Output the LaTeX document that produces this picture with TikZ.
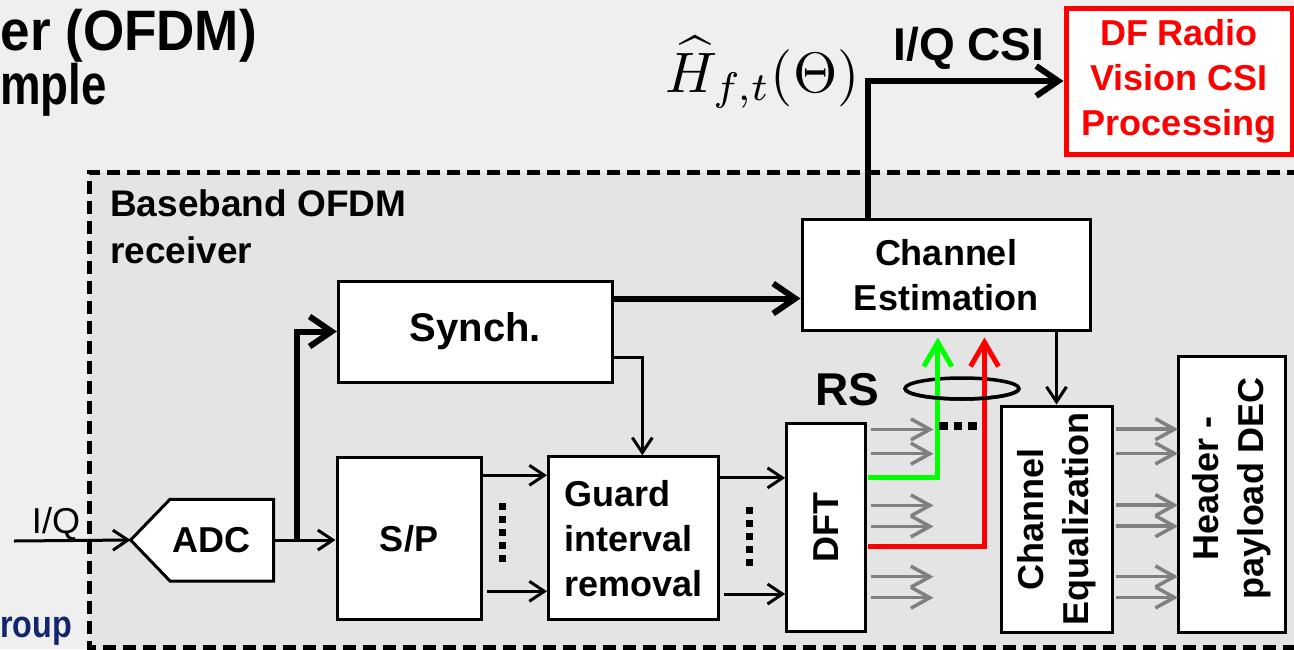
\documentclass[tikz,border=0pt]{standalone}
\usepackage[no-math]{fontspec}
\setmainfont{Liberation Sans}
\usepackage{amsmath}
\usepackage{graphicx}
\usetikzlibrary{arrows.meta,calc}
\definecolor{bgout}{HTML}{EFEFEF}
\definecolor{bgin}{HTML}{E4E4E4}
\definecolor{navy}{HTML}{13256B}
\definecolor{arrgray}{HTML}{808080}
\definecolor{rsgreen}{HTML}{00FF00}
\definecolor{rsred}{HTML}{FF0000}
\begin{document}
\begin{tikzpicture}[x=1pt,y=-1pt,
  box/.style={draw=black,line width=3pt,fill=white,inner sep=0pt,align=center,
    font=\fontsize{36}{45}\selectfont\bfseries},
  lbl/.style={inner sep=0pt,align=center,font=\fontsize{36}{45}\selectfont\bfseries},
  thinarr/.style={line width=3pt,-{Straight Barb[length=15pt,width=20pt]}},
  thickarr/.style={line width=6pt,-{Straight Barb[length=22pt,width=30pt]}},
  grayarr/.style={draw=arrgray,line width=3.5pt,-{Straight Barb[length=19pt,width=21pt]}},
  greenarr/.style={draw=rsgreen,line width=5pt,-{Straight Barb[length=24pt,width=28pt]}},
  redarr/.style={draw=rsred,line width=5pt,-{Straight Barb[length=24pt,width=28pt]}},
  dotline/.style={line width=7pt,dash pattern=on 7pt off 6pt},
  ring/.style={line width=3.5pt}
]
\useasboundingbox (0,0) rectangle (1294,649);
\fill[bgout] (0,0) rectangle (1294,649);
\fill[bgin] (89,172) rectangle (1300,652);
\draw[line width=5pt,dash pattern=on 13pt off 7pt] (1300,172) -- (89,172) -- (89,647) -- (1300,647);

% cropped slide texts
\node[anchor=base east,inner sep=0pt,font=\fontsize{57}{60}\selectfont\bfseries] (title1) at (257,50) {\scalebox{0.93}[1]{er (OFDM)}};
\node[anchor=base east,inner sep=0pt,font=\fontsize{57}{60}\selectfont\bfseries] (title2) at (107,104) {\scalebox{0.8}[1]{mple}};
\node[anchor=base east,inner sep=0pt,text=navy,font=\fontsize{38}{40}\selectfont\bfseries] (grp) at (72,637) {\scalebox{0.85}[1]{roup}};

\node[anchor=north west,inner sep=0pt,align=left,font=\fontsize{37}{47}\selectfont\bfseries] (bb) at (110,189) {Baseband OFDM\\receiver};

% blocks
\node[box,minimum width=288pt,minimum height=111pt] (ce) at (946,275) {Channel\\Estimation};
\node[box,minimum width=274pt,minimum height=101pt,font=\fontsize{40}{48}\selectfont\bfseries] (synch) at (475.4,331.5) {Synch.};
\node[box,minimum width=144pt,minimum height=162pt] (sp) at (409,538.8) {S/P};
\node[box,minimum width=170pt,minimum height=163pt,align=left] (guard) at (633.5,538.3) {Guard\\interval\\removal};
\node[box,minimum width=79pt,minimum height=208pt] (dft) at (826.2,527.5) {};
\node[lbl,rotate=90] (dfttxt) at (dft.center) {DFT};
\node[box,minimum width=111pt,minimum height=226pt] (eq) at (1056.5,519) {};
\node[lbl,rotate=90] (eqtxt) at (eq.center) {Channel\\Equalization};
\node[box,minimum width=107pt,minimum height=276pt] (hdr) at (1231.5,494) {};
\node[lbl,rotate=90] (hdrtxt) at (1231.5,488) {Header -\\payload DEC};
\node[box,draw=rsred,text=rsred,line width=5pt,minimum width=226pt,minimum height=146pt] (df) at (1179,81) {DF Radio\\Vision CSI\\Processing};

% ADC
\draw[line width=3pt,fill=white] (273.6,499.3) -- (170,499.3) -- (130.6,540) -- (170,581) -- (273.6,581) -- cycle;
\node[lbl,minimum width=123.6pt] (adc) at (211.8,540) {ADC};
\coordinate (adctip) at (130.6,540);
\coordinate (iqin) at (14,541);

% input
\draw[thinarr] (iqin) -- (adctip);
\node[anchor=base,inner sep=0pt,font=\fontsize{36}{40}\selectfont] (iq) at (56,533) {I/Q};

% ADC -> S/P, ADC -> Synch
\draw[thinarr] (adc.east) -- (adc.east -| sp.west);
\draw[thickarr] ($(adc.east)+(23,1.5)$) |- (synch.west);

% Synch -> CE, Synch -> Guard
\path ($(synch.north east)+(0,19)$) coordinate (s1);
\draw[thickarr] (s1) -- (s1 -| ce.west);
\path ($(synch.north east)+(0,78.3)$) coordinate (s2);
\draw[thinarr] (s2) -| ($(guard.north)+(8.8,0)$);

% S/P -> Guard
\path ($(sp.north east)+(0,19)$) coordinate (p1);
\draw[thinarr] (p1) -- (p1 -| guard.west);
\path ($(sp.north east)+(4,135)$) coordinate (p2);
\draw[thinarr] (p2) -- (p2 -| guard.west);
\draw[dotline] (502,503) -- (502,562);

% Guard -> DFT
\path ($(guard.north east)+(0,22.6)$) coordinate (g1);
\draw[thinarr] (g1) -- (g1 -| dft.west);
\path ($(guard.north east)+(4,138.7)$) coordinate (g2);
\draw[thinarr] (g2) -- (g2 -| dft.west);
\draw[dotline] (749,507) -- (749,566);

% DFT outputs
\foreach \d in {7.4,31.7,83.4,104.4,154.7,175.7}
  \draw[grayarr] ($(dft.north east)+(3.3,\d)$) -- ++(63,0);

% RS ring (back)
\draw[ring] (962,388.5) ellipse [x radius=57pt, y radius=10.5pt];
\draw[greenarr] ($(dft.north east)+(1,55.7)$) -| ($(ce.south west)+(137.3,5.5)$);
\draw[redarr] ($(dft.north east)+(1,124.7)$) -| ($(ce.south west)+(184,5.5)$);
% RS ring (front)
\draw[ring] (905,388.5) arc [start angle=180,end angle=360,x radius=57pt,y radius=10.5pt];
\draw[line width=8pt,dash pattern=on 8.5pt off 6pt] (939,425.7) -- (977,425.7);
\node[anchor=base,inner sep=0pt,font=\fontsize{46}{50}\selectfont\bfseries] (rs) at (847.5,405) {RS};

% CE -> Equalization
\draw[thinarr] (eq.north |- ce.south) -- (eq.north);

% Equalization -> Header
\foreach \d in {24.7,49,100.7,121.7,172,193}
  \draw[grayarr] ($(eq.north east)+(2.8,\d)$) -- ++(61.7,0);

% CE -> DF
\draw[thickarr] ($(ce.north west)+(67.7,0)$) |- (df.west);
\node[anchor=base,inner sep=0pt,font=\fontsize{46}{50}\selectfont\bfseries] (csi) at (969,60) {I/Q CSI};
\node[anchor=base,inner sep=0pt] (hhat) at (762.7,92) {\resizebox{194pt}{!}{$\widehat{H}_{f,t}(\Theta)$}};
\end{tikzpicture}
\end{document}
